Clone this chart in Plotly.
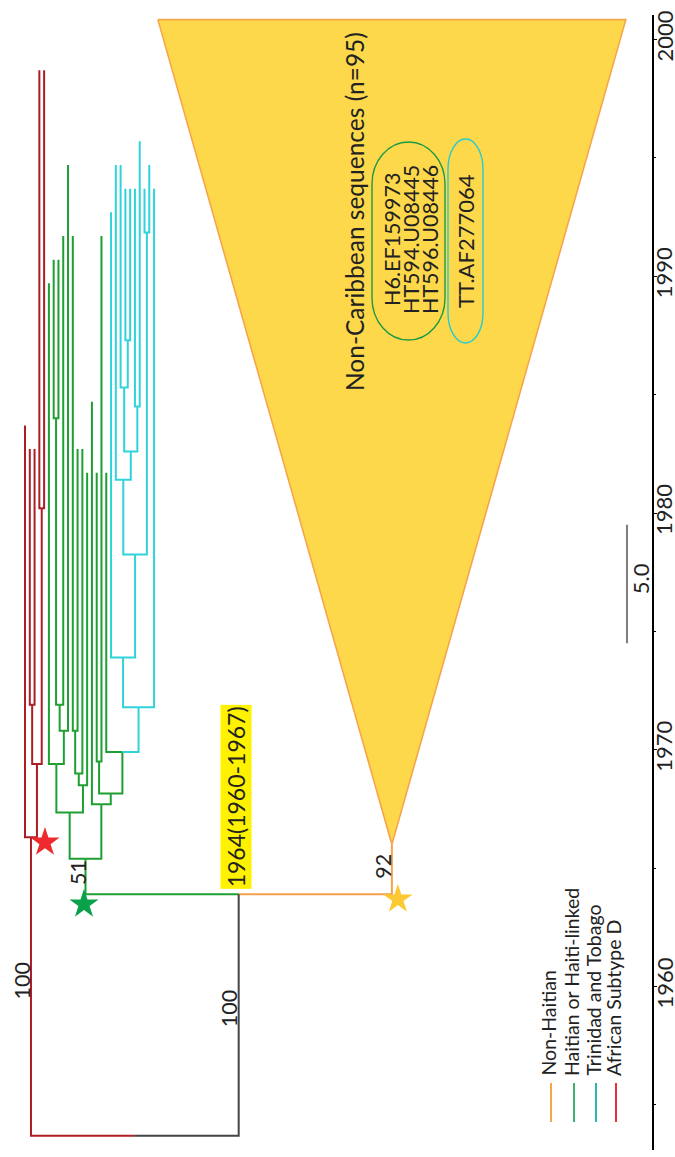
import plotly.graph_objects as go

# ---------------- data ----------------
TIP_NAME = ["t0", "t1", "t2", "t3", "t4",
            "t5", "t6", "t7", "t8", "t9", "t10", "t11", "t12", "t13", "t14", "t15", "t16", "t17",
            "t18", "t19", "t20", "t21", "t22", "t23", "t24", "t25", "t26", "t27"]
TIP_YEAR = [1983.7, 1982.7, 1982.7, 1998.7, 1998.7,
            1989.7, 1990.7, 1990.7, 1991.7, 1994.7, 1991.7, 1982.7, 1982.7, 1981.7, 1984.7, 1981.7, 1991.7, 1981.7,
            1992.7, 1994.7, 1994.7, 1993.7, 1993.7, 1993.7, 1995.7, 1993.7, 1994.7, 1993.7]
TIP_CLADE = ["D", "D", "D", "D", "D",
             "H", "H", "H", "H", "H", "H", "H", "H", "H", "H", "H", "H", "H",
             "T", "T", "T", "T", "T", "T", "T", "T", "T", "T"]

NODE_NAME = ["root", "R0", "R1", "R2", "R3", "B", "G0", "N812", "N763", "N730", "N705", "N418",
             "N785", "N773", "N731", "N804", "N793", "N762", "N752",
             "C706", "C657", "C554", "C480", "C450", "C387", "C340", "C405", "C232"]
NODE_YEAR = [1953.7, 1966.3, 1969.4, 1971.9, 1980.2, 1963.9, 1965.4, 1967.35, 1969.4, 1970.8, 1971.9, 1984.0,
             1968.5, 1969.0, 1970.8, 1967.7, 1968.15, 1969.5, 1969.9,
             1971.8, 1973.9, 1978.25, 1981.4, 1982.6, 1985.3, 1987.3, 1984.5, 1991.85]
NODE_KIDS = [("R0", "B"), ("t0", "R1"), ("R2", "R3"), ("t1", "t2"), ("t3", "t4"), ("G0", "O"),
             ("N812", "N804"), ("N763", "N785"), ("t5", "N730"), ("N705", "t9"), ("N418", "t8"), ("t6", "t7"),
             ("N773", "t13"), ("N731", "t12"), ("t10", "t11"), ("t14", "N793"), ("N762", "N752"),
             ("t15", "t16"), ("t17", "C706"),
             ("C657", "t27"), ("t18", "C554"), ("C480", "C232"), ("t19", "C450"), ("C387", "C405"),
             ("t20", "C340"), ("t21", "t22"), ("t23", "t24"), ("t25", "t26")]
NODE_CLADE = ["K", "D", "D", "D", "D", "K", "H", "H", "H", "H", "H", "H",
              "H", "H", "H", "H", "H", "H", "H",
              "T", "T", "T", "T", "T", "T", "T", "T", "T"]

# collapsed non-Caribbean clade (drawn as a triangle)
COLLAPSED_NAME = "O"
COLLAPSED_YEAR = 1966.0
COLLAPSED_N = 95
COLLAPSED_SLOTS = [27.8, 125.7]
COLLAPSED_TOP_YEAR = 2000.84

BOOT_NODE = ["R0", "B", "G0", "O"]
BOOT_VALUE = ["100", "100", "51", "92"]
BOOT_YEAR = [1960.25, 1959.07, 1964.81, 1965.1]

TMRCA = 1964
TMRCA_LO = 1960
TMRCA_HI = 1967

YEAR_TICKS = [1960, 1970, 1980, 1990, 2000]
SCALE_YEARS = 5.0
SCALE_START = 1974.5

CLADE_CODES = ["N", "H", "T", "D"]
CLADE_NAMES = ["Non-Haitian", "Haitian or Haiti-linked", "Trinidad and Tobago", "African Subtype D"]
LINKED_H = ["H6.EF159973", "HT594.U08445", "HT596.U08446"]
LINKED_T = ["TT.AF277064"]

# ---------------- styles ----------------
W, H = 675, 1157
TREE_COL = {"D": "#AE1C24", "H": "#1E9F32", "T": "#30D3D9", "N": "#F5A04C", "K": "#444444"}
LEG_COL = {"N": "#F6A64E", "H": "#3CB371", "T": "#2BB7B5", "D": "#E5323F"}
FONT = "Lato, Carlito, 'Open Sans', sans-serif"
TXT = "#222222"

# pixel geometry of the reference
X0_PX, DX_PX = 25.0, 4.78          # leaf slot 0 position and slot spacing
Y2000_PX, PX_YEAR = 39.5, 23.675   # year 2000 position and pixels per year
TOP_PX, BOT_PX = 15, 1150          # plot area
AXIS_PX = 652.5
xr = [(0 - X0_PX) / DX_PX, (W - X0_PX) / DX_PX]
yr = [2000 - (BOT_PX - Y2000_PX) / PX_YEAR, 2000 + (Y2000_PX - TOP_PX) / PX_YEAR]


def pp(xpx, ypx):
    """pixel -> paper coordinates"""
    return xpx / W, 1 - (ypx - TOP_PX) / (BOT_PX - TOP_PX)


# ---------------- layout of the tree ----------------
pos = {}
clade = {}
for i, (n, yv, c) in enumerate(zip(TIP_NAME, TIP_YEAR, TIP_CLADE)):
    pos[n] = (float(i), yv)
    clade[n] = c
pos[COLLAPSED_NAME] = (sum(COLLAPSED_SLOTS) / 2, COLLAPSED_YEAR)
clade[COLLAPSED_NAME] = "N"
kids = dict(zip(NODE_NAME, NODE_KIDS))
nyear = dict(zip(NODE_NAME, NODE_YEAR))
for n, c in zip(NODE_NAME, NODE_CLADE):
    clade[n] = c


def place(n):
    if n in pos:
        return pos[n]
    xs = [place(k)[0] for k in kids[n]]
    pos[n] = (sum(xs) / len(xs), nyear[n])
    return pos[n]


place("root")

segs = {c: ([], []) for c in TREE_COL}
for n in NODE_NAME:
    nx, ny = pos[n]
    for k in kids[n]:
        kx, ky = pos[k]
        sx, sy = segs[clade[k]]
        sx += [nx, kx, kx, None]
        sy += [ny, ny, ky, None]

fig = go.Figure()

# collapsed clade triangle
ox, oy = pos[COLLAPSED_NAME]
fig.add_trace(go.Scatter(
    x=[COLLAPSED_SLOTS[0], ox, COLLAPSED_SLOTS[1], COLLAPSED_SLOTS[0]],
    y=[COLLAPSED_TOP_YEAR, oy, COLLAPSED_TOP_YEAR, COLLAPSED_TOP_YEAR],
    mode="lines", fill="toself", fillcolor="#FDD84B",
    line=dict(color="#F7A54C", width=1.6), hoverinfo="skip", showlegend=False))

for c, (sx, sy) in segs.items():
    if sx:
        fig.add_trace(go.Scatter(x=sx, y=sy, mode="lines",
                                 line=dict(color=TREE_COL[c], width=2),
                                 hoverinfo="skip", showlegend=False))

# stars at key nodes (small pixel offsets)
ry_ = pos["root"][1]
star_pts = [
    (pos["root"][0] + 5 / DX_PX, ry_ - 15 / PX_YEAR, "#222222"),
    (pos["R0"][0] + 14 / DX_PX, pos["R0"][1] - 5 / PX_YEAR, "#EE2A2F"),
    (pos["G0"][0] - 1.5 / DX_PX, pos["B"][1] - 10 / PX_YEAR, "#0AA14B"),
    (ox + 6 / DX_PX, pos["B"][1] - 5 / PX_YEAR, "#FDC933"),
]
fig.add_trace(go.Scatter(
    x=[s[0] for s in star_pts], y=[s[1] for s in star_pts], mode="markers",
    marker=dict(symbol="star", size=22, color=[s[2] for s in star_pts], line=dict(width=0)),
    cliponaxis=False, hoverinfo="skip", showlegend=False))

# scale bar
scale_x = (627 - X0_PX) / DX_PX
fig.add_trace(go.Scatter(x=[scale_x, scale_x], y=[SCALE_START, SCALE_START + SCALE_YEARS],
                         mode="lines", line=dict(color="#555555", width=1.5),
                         hoverinfo="skip", showlegend=False))


def note(x, y, text, size, ref="data", **kw):
    d = dict(x=x, y=y, text=text, showarrow=False, textangle=-90,
             xanchor="center", yanchor="middle",
             font=dict(family=FONT, size=size, color=TXT))
    if ref == "paper":
        d.update(xref="paper", yref="paper")
    d.update(kw)
    return d


ann = []
# year tick labels (rotated, right of the axis)
for t in YEAR_TICKS:
    ann.append(note((AXIS_PX + 11) / W, t, str(t), 22, xref="paper", yref="y", yshift=3.5))
# bootstrap values
shifts = {"R0": -9, "B": -10, "G0": -8, "O": -9}
for n, v, yv in zip(BOOT_NODE, BOOT_VALUE, BOOT_YEAR):
    ann.append(note(pos[n][0], yv, v, 21.5, xshift=shifts[n]))
# TMRCA label
ann.append(note(pos["B"][0], pos["B"][1] + 5 / PX_YEAR, f"{TMRCA}({TMRCA_LO}-{TMRCA_HI})", 23,
                xshift=-3, yanchor="bottom", bgcolor="#FFF200", borderpad=1))
# scale label
ann.append(note(scale_x, SCALE_START + SCALE_YEARS / 2 + 0.2, f"{SCALE_YEARS:.1f}", 22, xshift=13))
# triangle text
tx, ty = pp(355, 212)
ann.append(note(tx, ty, f"Non-Caribbean sequences (n={COLLAPSED_N})", 24.5, ref="paper"))
for j, s in enumerate(LINKED_H):
    ax, ay = pp(392 + 19 * j, 240)
    ann.append(note(ax, ay, s, 21.5, ref="paper"))
ax, ay = pp(466, 241)
ann.append(note(ax, ay, LINKED_T[0], 22, ref="paper"))

# legend
shapes = []
leg_x = [551, 574, 596, 616]
for xpx, code, name in zip(leg_x, CLADE_CODES, CLADE_NAMES):
    x0, y0 = pp(xpx, 1083)
    _, y1 = pp(xpx, 1122)
    shapes.append(dict(type="line", xref="paper", yref="paper", x0=x0, x1=x0, y0=y0, y1=y1,
                       line=dict(color=LEG_COL[code], width=2)))
    lx, ly = pp(xpx - 3, 1078)
    ann.append(note(lx, ly, name, 19.5, ref="paper", yanchor="bottom"))


def stadium(x0, x1, y0, y1, ry):
    rx = (x1 - x0) / 2
    cx = (x0 + x1) / 2
    k = 0.5523
    pts = [
        ("M", [(x0, y0 + ry)]),
        ("C", [(x0, y0 + ry - k * ry), (cx - k * rx, y0), (cx, y0)]),
        ("C", [(cx + k * rx, y0), (x1, y0 + ry - k * ry), (x1, y0 + ry)]),
        ("L", [(x1, y1 - ry)]),
        ("C", [(x1, y1 - ry + k * ry), (cx + k * rx, y1), (cx, y1)]),
        ("C", [(cx - k * rx, y1), (x0, y1 - ry + k * ry), (x0, y1 - ry)]),
    ]
    out = []
    for cmd, ps in pts:
        coords = " ".join("%.5f,%.5f" % pp(a, b) for a, b in ps)
        out.append(cmd + " " + coords)
    return " ".join(out) + " Z"


shapes.append(dict(type="path", xref="paper", yref="paper", path=stadium(372, 445, 142, 340, 42),
                   line=dict(color="#1E9A45", width=1.4)))
shapes.append(dict(type="path", xref="paper", yref="paper", path=stadium(448, 483, 139, 343, 30),
                   line=dict(color="#25CBD3", width=1.4)))

fig.update_layout(
    width=W, height=H, margin=dict(l=0, r=0, t=TOP_PX, b=H - BOT_PX),
    paper_bgcolor="white", plot_bgcolor="white", showlegend=False,
    xaxis=dict(visible=False, range=xr, fixedrange=True),
    yaxis=dict(range=yr, side="right", anchor="free", position=AXIS_PX / W,
               showline=True, linecolor="black", linewidth=2.2, showgrid=False, zeroline=False,
               ticks="outside", ticklen=3, tickwidth=1.2, tickcolor="black",
               tickvals=YEAR_TICKS, showticklabels=False,
               minor=dict(dtick=5, ticks="outside", ticklen=2, tickcolor="black", showgrid=False),
               automargin=False, fixedrange=True),
    annotations=ann, shapes=shapes,
)

fig.write_html("out.html", config={"displayModeBar": False},
               post_script="document.body.style.margin='0';")
